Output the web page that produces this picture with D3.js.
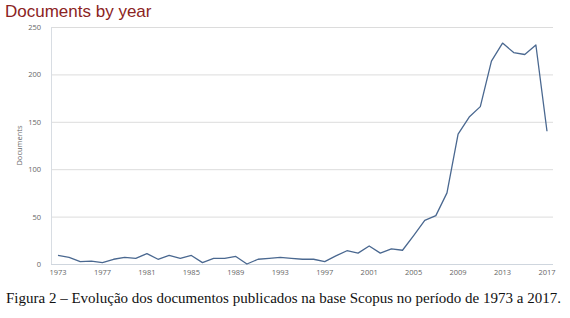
<!DOCTYPE html>
<html>
<head>
<meta charset="utf-8">
<script src="https://cdn.jsdelivr.net/npm/d3@7"></script>
<style>
  body { margin: 0; background: #fff; }
  svg { display: block; }
</style>
</head>
<body>
<div id="chart"></div>
<script>
// data
var years = d3.range(1973, 2018);
var docs = [9, 7, 2.5, 3, 1.5, 5, 7, 6, 11, 5, 9, 6, 9, 1.5, 6, 6, 8, 0, 5, 6,
            7, 6, 5, 5, 2.5, 8.5, 14, 11.5, 19, 11.5, 16, 14.5, 30, 46, 51, 75,
            137, 155, 166, 214, 233, 223, 221, 231, 140];
var yTicks = [0, 50, 100, 150, 200, 250];
var xTicks = d3.range(1973, 2018, 4);

var width = 570, height = 318;
var svg = d3.select('#chart').append('svg')
    .attr('width', width)
    .attr('height', height);

var x = d3.scaleLinear().domain([1973, 2017]).range([58, 547]);
var y = d3.scaleLinear().domain([0, 250]).range([264, 27]);

// gridlines
svg.append('g')
    .selectAll('line')
    .data(yTicks.slice(1))
    .join('line')
    .attr('x1', 51).attr('x2', 553)
    .attr('y1', d => y(d) + .5).attr('y2', d => y(d) + .5)
    .attr('stroke', '#dcdcdc')
    .attr('stroke-width', 1);

// left axis line + bottom axis line
svg.append('line')
    .attr('x1', 51.5).attr('x2', 51.5)
    .attr('y1', y(250)).attr('y2', y(0))
    .attr('stroke', '#d8dde3');
svg.append('line')
    .attr('x1', 51).attr('x2', 553)
    .attr('y1', y(0) + .5).attr('y2', y(0) + .5)
    .attr('stroke', '#cfd6de');

// y tick labels
svg.append('g')
    .selectAll('text')
    .data(yTicks)
    .join('text')
    .attr('x', 41)
    .attr('y', d => y(d) + 3)
    .attr('text-anchor', 'end')
    .style('font', '7.5px "Open Sans", sans-serif')
    .style('fill', '#666')
    .text(d => d);

// x tick labels
svg.append('g')
    .selectAll('text')
    .data(xTicks)
    .join('text')
    .attr('x', d => x(d))
    .attr('y', 275)
    .attr('text-anchor', 'middle')
    .style('font', '7.5px "Open Sans", sans-serif')
    .style('fill', '#666')
    .text(d => d);

// y axis title
svg.append('text')
    .attr('transform', `translate(22,${y(125)})rotate(-90)`)
    .attr('text-anchor', 'middle')
    .style('font', '7.5px "Open Sans", sans-serif')
    .style('fill', '#666')
    .text('Documents');

// the line
var line = d3.line()
    .x((d, i) => x(years[i]))
    .y(d => y(d));

svg.append('path')
    .datum(docs)
    .attr('d', line)
    .attr('fill', 'none')
    .attr('stroke', '#4a6890')
    .attr('stroke-width', 1.3)
    .attr('stroke-linejoin', 'round');

// title
svg.append('text')
    .attr('x', 5)
    .attr('y', 17)
    .style('font', '17px "Liberation Sans", Arial, sans-serif')
    .style('fill', '#8b2323')
    .text('Documents by year');

// caption
svg.append('text')
    .attr('x', 6)
    .attr('y', 303)
    .style('font', '15px "Liberation Serif", serif')
    .style('fill', '#111')
    .text('Figura 2 – Evolução dos documentos publicados na base Scopus no período de 1973 a 2017.');
</script>
</body>
</html>
